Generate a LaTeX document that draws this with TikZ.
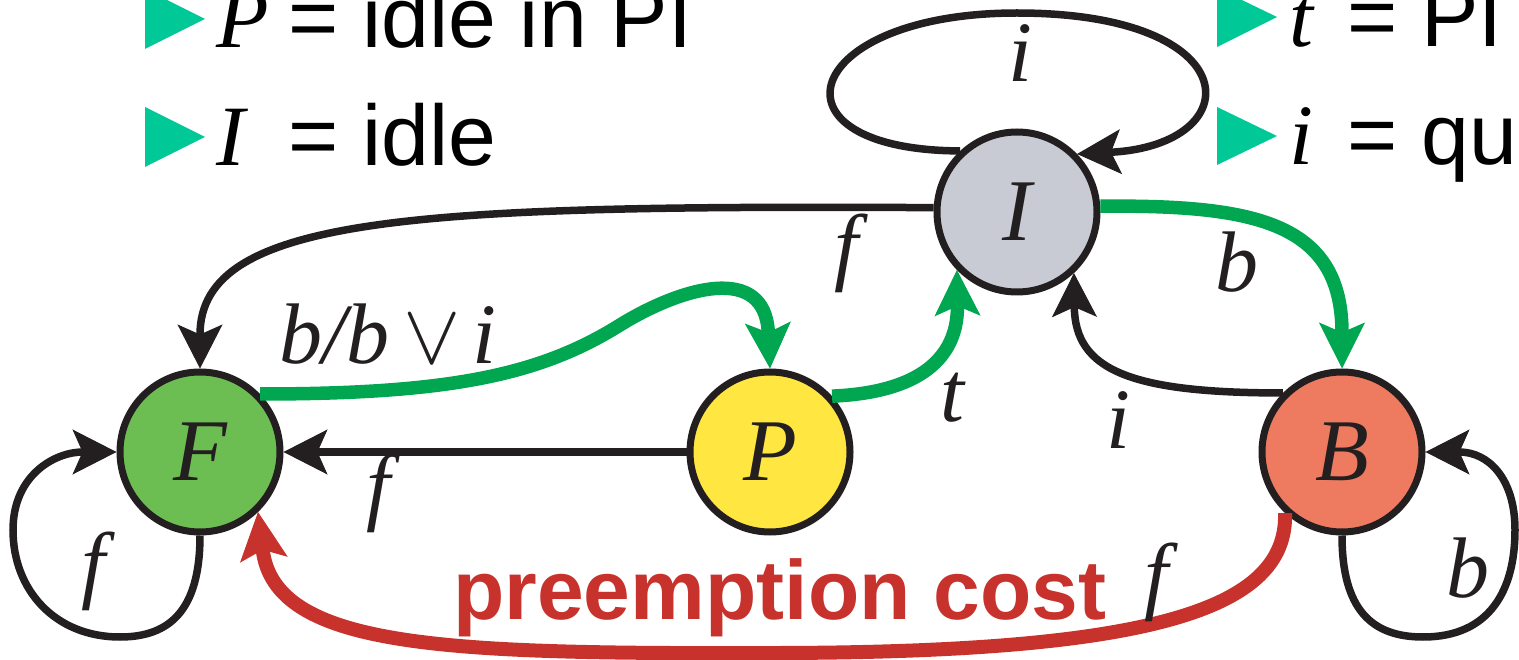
\RequirePackage{fix-cm}
\documentclass[tikz,border=0pt]{standalone}
\usepackage{fontspec}
\usetikzlibrary{arrows.meta}
\newfontfamily\tms{Liberation Serif}
\newfontfamily\ari{Liberation Sans}
\definecolor{ink}{HTML}{231F20}
\definecolor{fgreen}{HTML}{6DBE52}
\definecolor{pyellow}{HTML}{FFE640}
\definecolor{igray}{HTML}{C8CBD3}
\definecolor{bsalmon}{HTML}{EE7B60}
\definecolor{agreen}{HTML}{00A650}
\definecolor{ared}{HTML}{C8322D}
\definecolor{bullet}{HTML}{00C997}
\begin{document}
\begin{tikzpicture}[x=1pt,y=-1pt,
  state/.style={circle,draw=ink,line width=7pt,minimum size=160pt,inner sep=0pt,
    text=ink,font=\tms\itshape\fontsize{88}{88}\selectfont},
  lab/.style={inner sep=0pt,text=ink,font=\tms\itshape\fontsize{86}{86}\selectfont},
  leg/.style={inner sep=0pt,anchor=base west,text=black,font=\ari\fontsize{86}{86}\selectfont},
  legv/.style={inner sep=0pt,anchor=base west,text=black,font=\tms\itshape\fontsize{86}{86}\selectfont},
  blk/.style={draw=ink,line width=7.5pt,-{Stealth[length=44pt,width=45pt,inset=10pt,line width=1pt]}},
  grn/.style={draw=agreen,line width=13.5pt,-{Stealth[length=46pt,width=46pt,inset=10pt,line width=1pt]}},
  redarr/.style={draw=ared,line width=14pt,-{Stealth[length=48pt,width=48pt,inset=10pt,line width=1pt]}}
]
\useasboundingbox (0,0) rectangle (1519,660);
\clip (0,0) rectangle (1519,660);

% legend bullets
\fill[bullet] (145,-11) -- (145,49) -- (205,19) -- cycle;
\fill[bullet] (145,107) -- (145,167) -- (205,137) -- cycle;
\fill[bullet] (1217,-12) -- (1217,47) -- (1277,17) -- cycle;
\fill[bullet] (1217,107) -- (1217,165) -- (1277,136) -- cycle;

% legend text
\node[legv] (lP) at (216,48) {P};
\node[leg] (lPt) at (288,48) {= idle in PI};
\node[legv] (lI) at (216,166) {I};
\node[leg] (lIt) at (288,166) {= idle};
\node[legv] (lt) at (1289,47) {t};
\node[leg] (ltt) at (1347,47) {= PI};
\node[legv] (li) at (1289,165) {i};
\node[leg] (lit) at (1347,165) {= qu};

% states
\node[state,fill=fgreen] (F) at (200,452) {F};
\node[state,fill=pyellow] (P) at (770,452) {P};
\node[state,fill=igray] (I) at (1017,212) {I};
\node[state,fill=bsalmon] (B) at (1342,452) {B};

% edges
\draw[blk] (I.133) .. controls (760,150) and (800,13) .. (1017,13)
  .. controls (1250,13) and (1250,145) .. (I.44);
\draw[blk] (I.177) .. controls (420,205) and (200,215) .. (F.north);
\draw[grn] (F.44) .. controls (450,394) and (540,375) .. (620,325)
  .. controls (680,288) and (765,262) .. (P.north);
\draw[blk] (P.west) -- (F.east);
\draw[grn] (P.42) .. controls (930,392) and (958,350) .. (I.224);
\draw[grn] (I.4) .. controls (1250,205) and (1342,220) .. (B.north);
\draw[blk] (B.135) .. controls (1130,393) and (1075,370) .. (I.313);
\draw[redarr] (B.227) .. controls (1288,610) and (1150,652) .. (780,653)
  .. controls (450,654) and (275,650) .. (F.314);
\draw[blk] (F.south) .. controls (200,610) and (170,637) .. (120,637)
  .. controls (55,637) and (13,590) .. (13,530)
  .. controls (13,475) and (55,452) .. (F.west);
\draw[blk] (B.south) .. controls (1342,610) and (1372,637) .. (1423,637)
  .. controls (1490,637) and (1515,590) .. (1515,530)
  .. controls (1515,478) and (1488,452) .. (B.east);

% edge labels
\node[lab] (eIloop) at (1020,53) {i};
\node[lab] (eIF) at (846,253) {f};
\node[lab] (eFP) at (388,334) {b/b\hspace{14pt}$\vee$\hspace{12pt}i};
\node[lab] (ePF) at (378,493) {f};
\node[lab] (ePI) at (952,398) {t};
\node[lab] (eIB) at (1237,262) {b};
\node[lab] (eBI) at (1118,420) {i};
\node[lab] (eFloop) at (93,571) {f};
\node[lab] (eBloop) at (1468,568) {b};
\node[lab] (eBF) at (1156,582) {f};
\node[inner sep=0pt,anchor=base,text=ared,font=\ari\bfseries\fontsize{84}{84}\selectfont] (cost) at (780,619) {preemption cost};
\end{tikzpicture}
\end{document}
